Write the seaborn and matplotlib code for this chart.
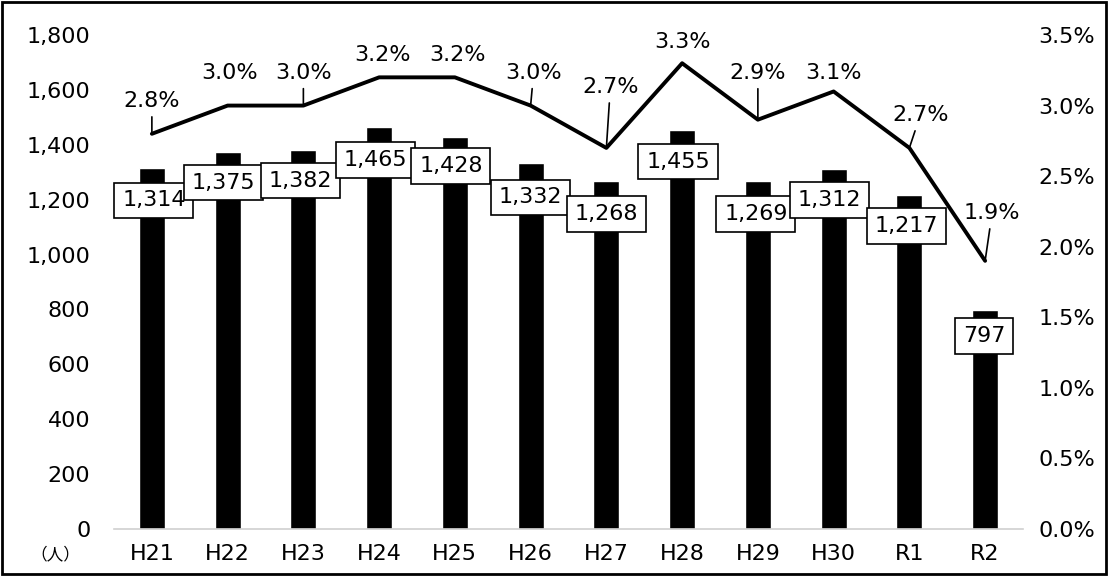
import seaborn as sns
import pandas as pd
import matplotlib.pyplot as plt
from matplotlib.patches import Rectangle
from matplotlib.ticker import FuncFormatter

years = ['H21', 'H22', 'H23', 'H24', 'H25', 'H26', 'H27', 'H28', 'H29', 'H30', 'R1', 'R2']
people = [1314, 1375, 1382, 1465, 1428, 1332, 1268, 1455, 1269, 1312, 1217, 797]
rate = [2.8, 3.0, 3.0, 3.2, 3.2, 3.0, 2.7, 3.3, 2.9, 3.1, 2.7, 1.9]

# label offsets in pixels (dx, dy) from the data point
bar_off = [(2, -32), (-4, -31), (-3, -31), (-4, -33), (-4, -29), (0, -34), (0, -33), (-4, -32), (-2, -33), (-4, -31), (-3, -31), (-1, -26)]
line_off = [(0, 33), (2, 33), (0, 33), (3, 22), (3, 22), (3, 33), (4, 61), (0, 21), (0, 47), (0, 18), (11, 33), (7, 48)]
leader = [1, 0, 1, 0, 0, 1, 1, 0, 1, 0, 1, 1]

sns.set_style('white')
plt.rcParams['font.family'] = ['DejaVu Sans', 'Noto Sans CJK JP']
plt.rcParams['text.color'] = 'black'
plt.rcParams['xtick.color'] = 'black'
plt.rcParams['ytick.color'] = 'black'
FS = 16

df = pd.DataFrame({'year': years, 'people': people, 'rate': rate, 'pos': range(len(years))})

fig = plt.figure(figsize=(11.08, 5.76), dpi=100)
ax = fig.add_axes([114 / 1108, 1 - 529 / 576, (1023 - 114) / 1108, (529 - 35) / 576])
sns.barplot(data=df, x='year', y='people', color='black', width=0.34, ax=ax, saturation=1)
ax.set_ylim(0, 1800)
ax.set_yticks(range(0, 1801, 200))
ax.yaxis.set_major_formatter(FuncFormatter(lambda v, p: f'{int(v):,}'))
ax.set_xlim(-0.5, len(years) - 0.5)
ax.set_xlabel('')
ax.set_ylabel('')
for s in ['top', 'right', 'left']:
    ax.spines[s].set_visible(False)
ax.spines['bottom'].set_color('#d0d0d0')
ax.spines['bottom'].set_linewidth(1.2)
ax.tick_params(axis='x', length=0, labelsize=FS, pad=11)
ax.tick_params(axis='y', length=0, labelsize=FS, pad=17)

ax2 = ax.twinx()
sns.lineplot(data=df, x='pos', y='rate', color='black', lw=2.8, ax=ax2)
ax2.set_ylim(0, 3.5)
ax2.set_yticks([i * 0.5 for i in range(8)])
ax2.yaxis.set_major_formatter(FuncFormatter(lambda v, p: f'{v:.1f}%'))
ax2.set_xlim(-0.5, len(years) - 0.5)
ax2.set_ylabel('')
ax2.set_xlabel('')
for s in ax2.spines.values():
    s.set_visible(False)
ax2.tick_params(axis='y', length=0, labelsize=FS, pad=11)

px = 0.72
for i, v in enumerate(people):
    dx, dy = bar_off[i]
    ax2.annotate(f'{v:,}', xy=(i, v / 1800 * 3.5), xytext=(dx * px, dy * px),
                 textcoords='offset points', ha='center', va='center', fontsize=FS,
                 bbox=dict(boxstyle='square,pad=0.35', fc='white', ec='black', lw=1.2), zorder=5)

for i, r in enumerate(rate):
    dx, dy = line_off[i]
    arrow = dict(arrowstyle='-', color='black', lw=1.2, shrinkA=2, shrinkB=1) if leader[i] else None
    ax2.annotate(f'{r:.1f}%', xy=(i, r), xytext=(dx * px, dy * px), textcoords='offset points',
                 ha='center', va='center', fontsize=FS, arrowprops=arrow, zorder=6)

fig.text(55 / 1108, 1 - 555 / 576, '（人）', ha='center', va='center', fontsize=12,
         family=['Noto Sans CJK JP', 'DejaVu Sans'])
fig.patches.append(Rectangle((0.002, 0.003), 0.996, 0.994, transform=fig.transFigure,
                             fill=False, ec='black', lw=2))

fig.savefig('out.png', dpi=100)
